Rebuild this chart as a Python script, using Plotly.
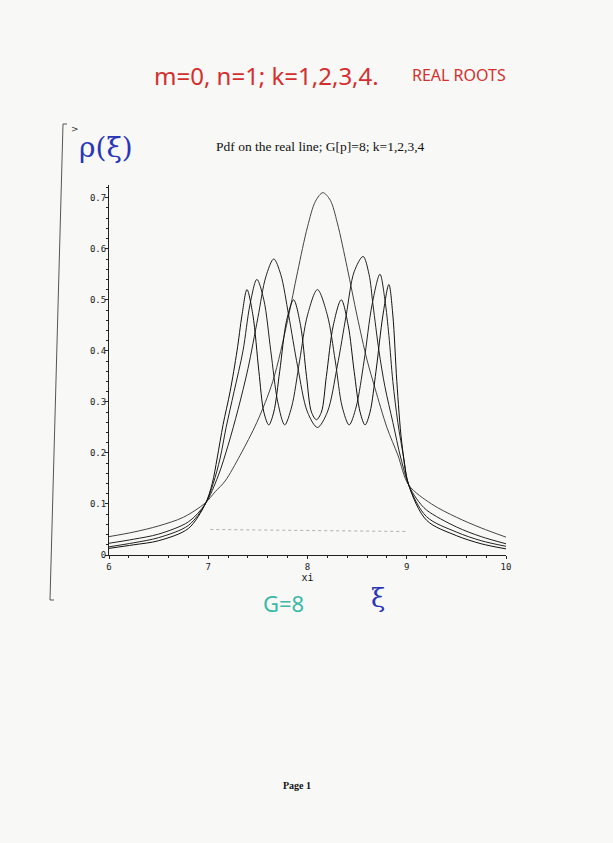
import plotly.graph_objects as go

# ---------------- data ----------------
x_k1 = [6.0, 6.25, 6.5, 6.75, 6.97, 7.07, 7.17, 7.32, 7.49, 7.65, 7.8, 7.9, 8.0, 8.08,
        8.155, 8.23, 8.3, 8.4, 8.5, 8.6, 8.68, 8.8, 8.91, 9.02, 9.25, 9.5, 9.75, 10.0]
y_k1 = [0.036, 0.045, 0.057, 0.074, 0.102, 0.124, 0.145, 0.195, 0.26, 0.34, 0.46, 0.555,
        0.643, 0.693, 0.71, 0.695, 0.651, 0.563, 0.468, 0.382, 0.327, 0.25, 0.196, 0.137,
        0.10, 0.074, 0.053, 0.035]

x_k2 = [6.0, 6.25, 6.5, 6.8, 6.97, 7.1, 7.2, 7.3, 7.4, 7.5, 7.58, 7.66, 7.73, 7.81, 7.9,
        8.0, 8.1, 8.2, 8.3, 8.39, 8.47, 8.56, 8.62, 8.66, 8.72, 8.78, 8.86, 8.94, 9.02,
        9.1, 9.2, 9.5, 9.75, 10.0]
y_k2 = [0.023, 0.031, 0.041, 0.065, 0.10, 0.155, 0.215, 0.285, 0.365, 0.465, 0.545, 0.58,
        0.55, 0.47, 0.37, 0.28, 0.25, 0.28, 0.37, 0.47, 0.555, 0.585, 0.55, 0.49, 0.40,
        0.33, 0.26, 0.19, 0.137, 0.11, 0.088, 0.055, 0.036, 0.022]

x_k3 = [6.0, 6.25, 6.5, 6.8, 6.97, 7.05, 7.12, 7.18, 7.26, 7.35, 7.42, 7.49, 7.56, 7.63,
        7.7, 7.77, 7.84, 7.92, 8.0, 8.1, 8.2, 8.28, 8.35, 8.42, 8.49, 8.57, 8.65, 8.73,
        8.78, 8.82, 8.86, 8.91, 8.97, 9.02, 9.2, 9.5, 9.75, 10.0]
y_k3 = [0.016, 0.024, 0.034, 0.058, 0.10, 0.14, 0.19, 0.25, 0.32, 0.40, 0.49, 0.54, 0.50,
        0.40, 0.30, 0.255, 0.29, 0.38, 0.47, 0.52, 0.47, 0.38, 0.29, 0.255, 0.29, 0.38,
        0.49, 0.55, 0.50, 0.43, 0.34, 0.26, 0.19, 0.137, 0.075, 0.045, 0.028, 0.017]

x_k4 = [6.0, 6.25, 6.5, 6.8, 6.97, 7.04, 7.09, 7.15, 7.22, 7.29, 7.34, 7.39, 7.45, 7.51,
        7.56, 7.61, 7.66, 7.72, 7.79, 7.86, 7.93, 7.99, 8.04, 8.09, 8.14, 8.19, 8.26, 8.34,
        8.41, 8.47, 8.53, 8.58, 8.63, 8.69, 8.76, 8.82, 8.86, 8.9, 8.95, 9.02, 9.2, 9.5,
        9.75, 10.0]
y_k4 = [0.013, 0.02, 0.028, 0.052, 0.10, 0.14, 0.19, 0.256, 0.32, 0.40, 0.47, 0.52, 0.47,
        0.36, 0.28, 0.255, 0.28, 0.36, 0.46, 0.50, 0.45, 0.35, 0.28, 0.265, 0.28, 0.35,
        0.45, 0.50, 0.45, 0.36, 0.28, 0.255, 0.28, 0.36, 0.47, 0.53, 0.47, 0.34, 0.22,
        0.137, 0.068, 0.038, 0.022, 0.012]

x_dots = [7.02, 9.01]
y_dots = [0.050, 0.046]

x_ticks = [6, 7, 8, 9, 10]
x_tick_text = ["6", "7", "8", "9", "10"]
y_ticks = [0, 0.1, 0.2, 0.3, 0.4, 0.5, 0.6, 0.7]
y_tick_text = ["0", "0.1", "0.2", "0.3", "0.4", "0.5", "0.6", "0.7"]

TITLE = "Pdf on the real line; G[p]=8; k=1,2,3,4"

# ---------------- layout geometry ----------------
W, H = 613, 843
L, R, T, B = 109, 107, 185, 288
PW, PH = W - L - R, H - T - B
BG = "#f8f8f6"


def px(xp):
    return (xp - L) / PW


def py(yp):
    return (H - B - yp) / PH


fig = go.Figure()
for xs, ys, col in [(x_k1, y_k1, "#444444"), (x_k2, y_k2, "#222222"),
                    (x_k3, y_k3, "#222222"), (x_k4, y_k4, "#111111")]:
    fig.add_trace(go.Scatter(x=xs, y=ys, mode="lines",
                             line=dict(color=col, width=1, shape="spline", smoothing=0.9),
                             showlegend=False, hoverinfo="skip"))
fig.add_trace(go.Scatter(x=x_dots, y=y_dots, mode="lines",
                         line=dict(color="#b0b0b0", width=1, dash="dot"),
                         showlegend=False, hoverinfo="skip"))

mono = dict(family="DejaVu Sans Mono", size=9, color="#222222")

fig.update_layout(
    width=W, height=H,
    margin=dict(l=L, r=R, t=T, b=B, pad=0),
    paper_bgcolor=BG, plot_bgcolor=BG,
    xaxis=dict(range=[6, 10], showgrid=False, zeroline=False, showline=True,
               linecolor="#222", linewidth=1, ticks="outside", ticklen=3,
               tickcolor="#222", tickvals=x_ticks, ticktext=x_tick_text,
               tickfont=mono, minor=dict(dtick=0.2, ticks="outside", ticklen=2,
                                         tickcolor="#222"),
               title=dict(text="xi", font=dict(family="DejaVu Sans Mono", size=10,
                                               color="#111"), standoff=3)),
    yaxis=dict(range=[0, 0.725], showgrid=False, zeroline=False, showline=True,
               linecolor="#222", linewidth=1, ticks="outside", ticklen=3,
               tickcolor="#222", tickvals=y_ticks, ticktext=y_tick_text,
               tickfont=mono, ticklabelstandoff=-3,
               minor=dict(dtick=0.02, ticks="outside", ticklen=2, tickcolor="#222")),
    xaxis2=dict(range=[6, 10], overlaying="x", anchor="y", side="bottom",
                showgrid=False, zeroline=False, showline=False, showticklabels=False,
                ticks="inside", ticklen=3, tickcolor="#222", tickvals=x_ticks,
                minor=dict(dtick=0.2, ticks="inside", ticklen=2, tickcolor="#222")),
    yaxis2=dict(range=[0, 0.725], overlaying="y", anchor="x", side="left",
                showgrid=False, zeroline=False, showline=False, showticklabels=False,
                ticks="inside", ticklen=3, tickcolor="#222", tickvals=y_ticks,
                minor=dict(dtick=0.02, ticks="inside", ticklen=2, tickcolor="#222")),
)

ann = [
    dict(text="m=0, n=1; k=1,2,3,4.", x=px(266), y=py(76), size=24,
         color="#d42f2f", family="Noto Sans"),
    dict(text="REAL ROOTS", x=px(459), y=py(75), size=16, color="#d42f2f",
         family="Noto Sans"),
    dict(text="ρ(ξ)", x=px(106), y=py(148), size=28, color="#2a35b8",
         family="DejaVu Serif"),
    dict(text=">", x=px(75), y=py(129), size=9, color="#333333", family="DejaVu Sans"),
    dict(text=TITLE, x=px(320), y=py(147), size=13.5, color="#111111",
         family="Liberation Serif"),
    dict(text="ξ", x=px(378), y=py(598), size=26, color="#2a35b8",
         family="DejaVu Serif"),
    dict(text="G=8", x=px(283), y=py(603), size=22, color="#3cb8a8",
         family="Noto Sans"),
    dict(text="<b>Page 1</b>", x=px(297), y=py(785), size=10, color="#111111",
         family="Liberation Serif"),
]
for a in ann:
    fig.add_annotation(text=a["text"], x=a["x"], y=a["y"], xref="paper", yref="paper",
                       showarrow=False, xanchor="center", yanchor="middle",
                       font=dict(size=a["size"], color=a["color"], family=a["family"]))

# Maple worksheet bracket at the left
for x0, y0, x1, y1 in [(63, 124, 50, 600), (63, 124, 67, 124), (50, 600, 54, 600)]:
    fig.add_shape(type="line", xref="paper", yref="paper",
                  x0=px(x0), y0=py(y0), x1=px(x1), y1=py(y1),
                  line=dict(color="#555555", width=1))

fig.write_html("out.html",
               config={"displayModeBar": False, "staticPlot": True},
               post_script="document.body.style.margin='0';"
                           "document.body.style.overflow='hidden';"
                           "document.body.style.background='" + BG + "';")
